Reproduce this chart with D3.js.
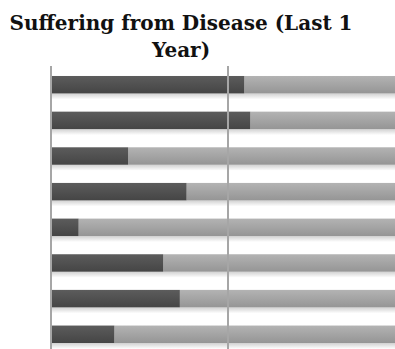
<!DOCTYPE html>
<html>
<head>
  <meta charset="utf-8">
  <title>Suffering from Disease</title>
  <script src="https://d3js.org/d3.v7.min.js"></script>
  <style>
    body { margin: 0; background: #fff; }
  </style>
</head>
<body>
  <div id="view"></div>
  <script>
    var width = 395;
    var height = 349;

    // rows top to bottom, share (%) suffering vs not
    var categories = ["R1", "R2", "R3", "R4", "R5", "R6", "R7", "R8"];
    var yesValues = [54.6, 56.3, 21.8, 38.3, 7.8, 31.7, 36.4, 17.9];
    var noValues = yesValues.map(function (v) { return 100 - v; });
    var ticks = [0, 50, 100];
    var titleLines = ["Suffering from Disease (Last 1", "Year)"];

    var svg = d3.select("#view")
      .append("svg")
      .attr("width", width)
      .attr("height", height);

    var defs = svg.append("defs");

    function grad(id, c1, c2) {
      var g = defs.append("linearGradient")
        .attr("id", id)
        .attr("x1", 0).attr("y1", 0).attr("x2", 0).attr("y2", 1);
      g.append("stop").attr("offset", "0%").attr("stop-color", c1);
      g.append("stop").attr("offset", "100%").attr("stop-color", c2);
    }
    grad("darkGrad", "#5c5c5c", "#454545");
    grad("lightGrad", "#b3b3b3", "#959595");
    var sh = defs.append("linearGradient")
      .attr("id", "shadowGrad")
      .attr("x1", 0).attr("y1", 0).attr("x2", 0).attr("y2", 1);
    sh.append("stop").attr("offset", "0%").attr("stop-color", "#000").attr("stop-opacity", 0.18);
    sh.append("stop").attr("offset", "100%").attr("stop-color", "#000").attr("stop-opacity", 0);

    var x = d3.scaleLinear()
      .domain([0, 100])
      .range([51, 405]);

    var y = d3.scaleBand()
      .domain(categories)
      .range([66, 353])
      .paddingInner(0.51)
      .paddingOuter(0.28);

    // title, one text element per line
    svg.selectAll("text.title")
      .data(titleLines)
      .join("text")
      .attr("class", "title")
      .attr("x", 181)
      .attr("y", function (d, i) { return 30 + i * 27; })
      .attr("text-anchor", "middle")
      .attr("font-family", "DejaVu Serif")
      .attr("font-weight", "bold")
      .attr("font-size", 20)
      .attr("fill", "#111")
      .text(function (d) { return d; });

    // shadows under bars
    svg.append("g").selectAll("rect")
      .data(categories)
      .join("rect")
      .attr("x", x(0))
      .attr("y", function (d) { return y(d) + y.bandwidth(); })
      .attr("width", width - x(0))
      .attr("height", 6)
      .attr("fill", "url(#shadowGrad)");

    // light part
    svg.append("g").selectAll("rect")
      .data(categories)
      .join("rect")
      .attr("x", function (d, i) { return x(yesValues[i]); })
      .attr("y", function (d) { return y(d); })
      .attr("width", function (d, i) { return x(100) - x(100 - noValues[i]); })
      .attr("height", y.bandwidth())
      .attr("fill", "url(#lightGrad)");

    // dark part
    svg.append("g").selectAll("rect")
      .data(categories)
      .join("rect")
      .attr("x", x(0))
      .attr("y", function (d) { return y(d); })
      .attr("width", function (d, i) { return x(yesValues[i]) - x(0); })
      .attr("height", y.bandwidth())
      .attr("fill", "url(#darkGrad)");

    // grid lines drawn over bars
    svg.append("g").selectAll("line")
      .data(ticks)
      .join("line")
      .attr("x1", function (d) { return x(d); })
      .attr("x2", function (d) { return x(d); })
      .attr("y1", 66)
      .attr("y2", height)
      .attr("stroke", "#a6a6a6")
      .attr("stroke-width", 2);
  </script>
</body>
</html>
